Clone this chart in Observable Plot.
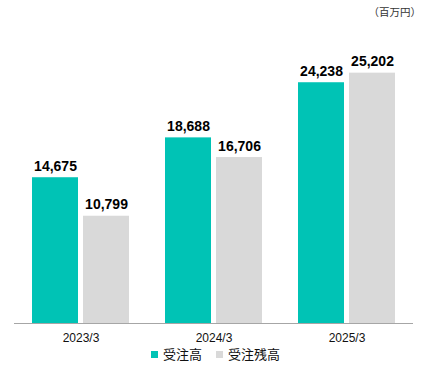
<!DOCTYPE html>
<html>
<head>
<meta charset="utf-8">
<script src="https://cdn.jsdelivr.net/npm/d3@7"></script>
<script src="https://cdn.jsdelivr.net/npm/@observablehq/plot@0.6"></script>
<style>
  html, body { margin: 0; padding: 0; background: #fff; }
  #wrap { position: relative; width: 425px; height: 380px; font-family: "Liberation Sans", Arial, sans-serif; }
  #unit { position: absolute; top: 4px; right: 4px; font-family: "Noto Sans CJK JP", sans-serif; font-size: 10.5px; color: #333; }
  #legend { display: flex; justify-content: center; align-items: center; gap: 0; padding-left: 6px; font-family: "Noto Sans CJK JP", sans-serif; font-size: 13px; color: #111; line-height: 16px; }
  .item { display: flex; align-items: center; margin: 0 7px; }
  .sw { width: 7px; height: 7px; margin-right: 5px; }
</style>
</head>
<body>
<div id="wrap">
  <div id="unit">（百万円）</div>
  <div id="chart"></div>
  <div id="legend"></div>
</div>
<script>
const years = ["2023/3", "2024/3", "2025/3"];
const seriesNames = ["受注高", "受注残高"];
const orders = [14675, 18688, 24238];
const backlog = [10799, 16706, 25202];
const colors = ["#00c3b5", "#d9d9d9"];

const data = [];
years.forEach((y, i) => {
  data.push({year: y, series: seriesNames[0], value: orders[i]});
  data.push({year: y, series: seriesNames[1], value: backlog[i]});
});

const fmt = d3.format(",");

const chart = Plot.plot({
  width: 425,
  height: 346,
  marginTop: 25,
  marginBottom: 23,
  marginLeft: 14,
  marginRight: 12,
  style: {fontFamily: "'Liberation Sans', Arial, sans-serif", background: "#fff"},
  fx: {domain: years, paddingInner: 0.256, paddingOuter: 0.128, label: null},
  x: {domain: seriesNames, paddingInner: 0.096, paddingOuter: 0, axis: null},
  y: {domain: [0, 30000], axis: null},
  color: {domain: seriesNames, range: colors},
  marks: [
    Plot.barY(data, {fx: "year", x: "series", y: "value", fill: "series"}),
    Plot.ruleY([0], {stroke: "#a6a6a6", strokeWidth: 1.2, insetLeft: -17, insetRight: -17}),
    Plot.text(data, {fx: "year", x: "series", y: "value", text: d => fmt(d.value), lineAnchor: "bottom", dy: -7, fontWeight: "bold", fontSize: 14, fill: "#000"}),
    Plot.axisFx({anchor: "bottom", tickSize: 0, tickPadding: 10, label: null, fontSize: 12, fill: "#111"})
  ]
});
document.getElementById("chart").appendChild(chart);

const legend = document.getElementById("legend");
seriesNames.forEach((s, i) => {
  const it = document.createElement("div");
  it.className = "item";
  const sw = document.createElement("div");
  sw.className = "sw";
  sw.style.background = colors[i];
  const t = document.createElement("span");
  t.textContent = s;
  it.appendChild(sw);
  it.appendChild(t);
  legend.appendChild(it);
});
</script>
</body>
</html>
